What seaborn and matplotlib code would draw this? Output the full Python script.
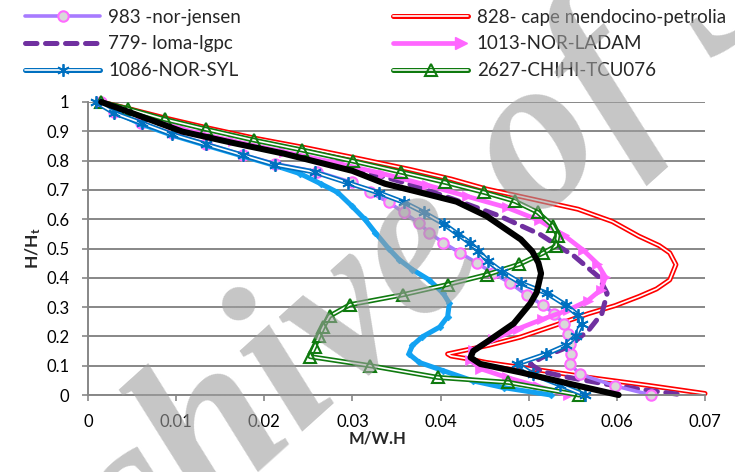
import numpy as np
import matplotlib
matplotlib.use("Agg")
import matplotlib.pyplot as plt
import seaborn as sns
from matplotlib.lines import Line2D
from matplotlib.legend_handler import HandlerTuple, HandlerBase

# ---- data: storey shear profiles (M/W.H versus H/Ht) ----
jensen_x = [0.0015, 0.0030, 0.0060, 0.0095, 0.0134, 0.0176, 0.0212, 0.0260, 0.0299, 0.0320,
            0.0341, 0.0358, 0.0376, 0.0387, 0.0403, 0.0422, 0.0441, 0.0460, 0.0479, 0.0498,
            0.0516, 0.0529, 0.0540, 0.0545, 0.0547, 0.0548, 0.0547, 0.0558, 0.0598, 0.0639]
jensen_y = [1.000, 0.965, 0.930, 0.893, 0.858, 0.820, 0.790, 0.762, 0.726, 0.692,
            0.658, 0.623, 0.586, 0.554, 0.520, 0.485, 0.451, 0.415, 0.382, 0.341,
            0.307, 0.278, 0.243, 0.209, 0.175, 0.140, 0.106, 0.071, 0.031, 0.000]

petrolia_x = [0.0015, 0.0045, 0.0088, 0.0135, 0.0190, 0.0250, 0.0310, 0.0365, 0.0412, 0.0452,
              0.0505, 0.0556, 0.0595, 0.0625, 0.0648, 0.0660, 0.0667, 0.0660, 0.0645, 0.0625,
              0.0598, 0.0568, 0.0530, 0.0491, 0.0455, 0.0425, 0.0408, 0.0412, 0.0430, 0.0452,
              0.0510, 0.0568, 0.0635, 0.0700]
petrolia_y = [1.000, 0.978, 0.945, 0.912, 0.876, 0.842, 0.805, 0.770, 0.737, 0.703,
              0.668, 0.634, 0.592, 0.542, 0.510, 0.485, 0.445, 0.393, 0.362, 0.336,
              0.305, 0.278, 0.238, 0.198, 0.170, 0.151, 0.140, 0.133, 0.124, 0.111,
              0.086, 0.060, 0.033, 0.005]

loma_x = [0.0015, 0.0107, 0.0222, 0.0300, 0.0360, 0.0414, 0.0467, 0.0513, 0.0552, 0.0579,
          0.0589, 0.0583, 0.0568, 0.0544, 0.0515, 0.0502, 0.0515, 0.0545, 0.0588, 0.0630, 0.0671]
loma_y = [1.000, 0.902, 0.827, 0.775, 0.724, 0.669, 0.611, 0.548, 0.473, 0.404,
          0.347, 0.278, 0.221, 0.163, 0.128, 0.105, 0.080, 0.060, 0.037, 0.018, 0.002]

ladam_x = [0.0015, 0.0060, 0.0110, 0.0165, 0.0222, 0.0280, 0.0335, 0.0385, 0.0430, 0.0475,
           0.0512, 0.0540, 0.0562, 0.0578, 0.0587, 0.0582, 0.0567, 0.0545, 0.0515, 0.0488,
           0.0460, 0.0437, 0.0433, 0.0445, 0.0475, 0.0510, 0.0545]
ladam_y = [1.000, 0.950, 0.905, 0.866, 0.830, 0.793, 0.755, 0.716, 0.678, 0.640,
           0.596, 0.545, 0.494, 0.448, 0.403, 0.360, 0.322, 0.290, 0.258, 0.226,
           0.190, 0.155, 0.120, 0.090, 0.060, 0.030, 0.000]

syl_x = [0.0009, 0.0030, 0.0061, 0.0095, 0.0134, 0.0176, 0.0212, 0.0257, 0.0295, 0.0330,
         0.0358, 0.0381, 0.0404, 0.0420, 0.0433, 0.0443, 0.0454, 0.0470, 0.0491, 0.0521,
         0.0542, 0.0556, 0.0560, 0.0554, 0.0542, 0.0520, 0.0487, 0.0505, 0.0535, 0.0564]
syl_y = [1.000, 0.962, 0.928, 0.890, 0.855, 0.818, 0.786, 0.761, 0.724, 0.690,
         0.658, 0.623, 0.583, 0.548, 0.520, 0.491, 0.456, 0.420, 0.382, 0.347,
         0.307, 0.272, 0.244, 0.203, 0.169, 0.140, 0.106, 0.070, 0.035, 0.000]

tcu_x = [0.0015, 0.0045, 0.0087, 0.0134, 0.0188, 0.0243, 0.0301, 0.0355, 0.0405, 0.0449,
         0.0484, 0.0510, 0.0527, 0.0533, 0.0531, 0.0516, 0.0489, 0.0453, 0.0408, 0.0357,
         0.0297, 0.0274, 0.0267, 0.0262, 0.0257, 0.0252, 0.0320, 0.0397, 0.0477, 0.0557]
tcu_y = [1.000, 0.977, 0.941, 0.907, 0.870, 0.836, 0.798, 0.761, 0.726, 0.692,
         0.662, 0.624, 0.578, 0.544, 0.509, 0.484, 0.446, 0.411, 0.377, 0.342,
         0.308, 0.269, 0.232, 0.200, 0.163, 0.131, 0.100, 0.060, 0.043, 0.000]

extra_x = [0.0015, 0.0035, 0.0060, 0.0095, 0.0134, 0.0176, 0.0210, 0.0241, 0.0264, 0.0283,
           0.0299, 0.0314, 0.0326, 0.0341, 0.0353, 0.0368, 0.0387, 0.0403, 0.0410, 0.0408,
           0.0399, 0.0379, 0.0368, 0.0364, 0.0376, 0.0403, 0.0437, 0.0472, 0.0525]
extra_y = [1.000, 0.960, 0.925, 0.887, 0.852, 0.815, 0.785, 0.755, 0.721, 0.692,
           0.646, 0.600, 0.554, 0.500, 0.462, 0.428, 0.393, 0.347, 0.313, 0.267,
           0.232, 0.198, 0.169, 0.140, 0.111, 0.083, 0.048, 0.025, 0.000]

mean_x = [0.0015, 0.0050, 0.0107, 0.0165, 0.0222, 0.0300, 0.0337, 0.0372, 0.0418, 0.0452,
          0.0491, 0.0504, 0.0511, 0.0514, 0.0509, 0.0502, 0.0483, 0.0452, 0.0437, 0.0434,
          0.0445, 0.0491, 0.0548, 0.0602]
mean_y = [1.000, 0.962, 0.899, 0.860, 0.824, 0.765, 0.721, 0.695, 0.660, 0.611,
          0.531, 0.490, 0.451, 0.415, 0.350, 0.313, 0.244, 0.180, 0.150, 0.128,
          0.106, 0.077, 0.037, 0.000]

labels = ["983 -nor-jensen", "779- loma-lgpc", "1086-NOR-SYL",
          "828- cape mendocino-petrolia", "1013-NOR-LADAM", "2627-CHIHI-TCU076"]
x_ticks = [0, 0.01, 0.02, 0.03, 0.04, 0.05, 0.06, 0.07]
x_tick_labels = ["0", "0.01", "0.02", "0.03", "0.04", "0.05", "0.06", "0.07"]
y_ticks = [0, 0.1, 0.2, 0.3, 0.4, 0.5, 0.6, 0.7, 0.8, 0.9, 1.0]
y_tick_labels = ["0", "0.1", "0.2", "0.3", "0.4", "0.5", "0.6", "0.7", "0.8", "0.9", "1"]

# ---- colours ----
C_JENSEN_LINE = "#A77BFF"
C_JENSEN_EDGE = "#FF6BFF"
C_RED = "#FF0000"
C_LOMA = "#7030A0"
C_LADAM = "#FF66FF"
C_SYL = "#0070C0"
C_TCU = "#0F7A0F"
C_EXTRA = "#12A2F2"
C_GRID = "#878787"

sns.set_theme(style="white")
plt.rcParams["font.family"] = ["Lato", "DejaVu Sans"]
plt.rcParams["mathtext.fontset"] = "custom"
plt.rcParams["mathtext.rm"] = "Lato"
plt.rcParams["mathtext.bf"] = "Lato:bold"

W, H = 735, 472
LEFT, RIGHT, TOP, BOTTOM = 88, 705, 102, 395
fig = plt.figure(figsize=(W / 100, H / 100), dpi=100)
ax = fig.add_axes([LEFT / W, 1 - BOTTOM / H, (RIGHT - LEFT) / W, (BOTTOM - TOP) / H])


def draw(x, y, **kw):
    sns.lineplot(x=x, y=y, ax=ax, sort=False, estimator=None, legend=False,
                 clip_on=False, **kw)


def double_line(x, y, color, z):
    draw(x, y, color=color, lw=3.6, zorder=z)
    draw(x, y, color="white", lw=1.2, zorder=z + 0.01)


# red double line
double_line(petrolia_x, petrolia_y, C_RED, 2.0)
# purple dashed
draw(loma_x, loma_y, color=C_LOMA, lw=3.6, linestyle=(0, (2.3, 1.7)),
     dash_capstyle="round", zorder=2.2)
# violet line with circles
draw(jensen_x, jensen_y, color=C_JENSEN_LINE, lw=2.6, marker="o", ms=7.5,
     mfc="#D9D9D9", mec=C_JENSEN_EDGE, mew=1.5, zorder=2.4)
# magenta line with triangles
draw(ladam_x, ladam_y, color=C_LADAM, lw=3.4, marker=">", ms=7.5,
     mec=C_LADAM, mew=0.5, zorder=2.6)
# light blue line with small markers
draw(extra_x, extra_y, color=C_EXTRA, lw=3.6, marker="D", ms=3.4,
     mec=C_EXTRA, mew=0.5, zorder=2.8)
# green double line with open triangles
double_line(tcu_x, tcu_y, C_TCU, 3.0)
draw(tcu_x, tcu_y, linestyle="none", marker="^", ms=8, mfc="none",
     mec=C_TCU, mew=1.5, zorder=3.05)
# blue double line with star markers
double_line(syl_x, syl_y, C_SYL, 3.2)
draw(syl_x, syl_y, linestyle="none", marker=(6, 2, 0), ms=9,
     mec=C_SYL, mew=1.3, zorder=3.25)
# black mean curve
draw(mean_x, mean_y, color="black", lw=4.4, solid_capstyle="round", zorder=3.5)

# ---- axes styling ----
ax.set_xlim(0, 0.07)
ax.set_ylim(0, 1.0)
ax.set_xticks(x_ticks)
ax.set_xticklabels(x_tick_labels)
ax.set_yticks(y_ticks)
ax.set_yticklabels(y_tick_labels)
ax.yaxis.grid(True, color=C_GRID, lw=1.4)
ax.xaxis.grid(False)
ax.set_axisbelow(True)
for s in ["top", "right"]:
    ax.spines[s].set_visible(False)
for s in ["left", "bottom"]:
    ax.spines[s].set_color(C_GRID)
    ax.spines[s].set_linewidth(1.4)
ax.tick_params(axis="both", which="major", direction="out", length=4.5, width=1.2,
               color=C_GRID, labelsize=12, pad=9, labelcolor="black",
               bottom=True, left=True)
ax.set_xlabel("")
ax.set_ylabel("")
fig.text(378 / W, 1 - 438 / H, "M/W.H", fontsize=12, fontweight="bold",
         ha="center", va="center")
fig.text(33 / W, 1 - 248 / H, r"$\mathbf{H/H_t}$", fontsize=12.5, rotation=90,
         ha="center", va="center")


# ---- legend ----
class ArrowHandler(HandlerBase):
    def create_artists(self, legend, orig_handle, xdescent, ydescent, width, height,
                       fontsize, trans):
        y = height / 2 - ydescent
        x0, x1 = -xdescent, -xdescent + width
        ln = Line2D([x0, x1 - 8], [y, y], color=C_LADAM, lw=3.4, transform=trans)
        mk = Line2D([x1 - 5], [y], ls="none", marker=">", ms=9, color=C_LADAM,
                    mec=C_LADAM, transform=trans)
        return [ln, mk]


class ArrowKey:
    pass


def dbl(color, marker=None, **mk):
    parts = [Line2D([], [], color=color, lw=3.6, solid_capstyle="round"),
             Line2D([], [], color="white", lw=1.2, solid_capstyle="round")]
    if marker is not None:
        parts.append(Line2D([], [], ls="none", marker=marker, **mk))
    return tuple(parts)


h_jensen = Line2D([], [], color=C_JENSEN_LINE, lw=2.6, marker="o", ms=7.5,
                  mfc="#D9D9D9", mec=C_JENSEN_EDGE, mew=1.5)
h_loma = Line2D([], [], color=C_LOMA, lw=3.6, linestyle=(0, (2.3, 1.7)),
                dash_capstyle="round")
h_syl = dbl(C_SYL, (6, 2, 0), ms=9, mec=C_SYL, mew=1.3)
h_pet = dbl(C_RED)
h_ladam = ArrowKey()
h_tcu = dbl(C_TCU, "^", ms=8, mfc="none", mec=C_TCU, mew=1.5)

handles = [h_jensen, h_loma, h_syl, h_pet, h_ladam, h_tcu]
fig.legend(handles, labels, loc="upper left", bbox_to_anchor=(25 / W, 1 - 8.5 / H),
           ncol=2, frameon=False, fontsize=13.5, borderpad=0, borderaxespad=0,
           handlelength=4.0, handletextpad=0.45, columnspacing=8.1, labelspacing=0.53,
           handler_map={tuple: HandlerTuple(ndivide=1, pad=0),
                        ArrowKey: ArrowHandler()})

# ---- watermark ----
fig.text(440 / W, 1 - 245 / H, "Archive of SID", rotation=42, ha="center",
         va="center", fontsize=160, fontstyle="italic", fontweight="bold",
         family="Liberation Serif", color="#A0A0A0", alpha=0.6, zorder=10)

fig.savefig("out.png", dpi=100)
